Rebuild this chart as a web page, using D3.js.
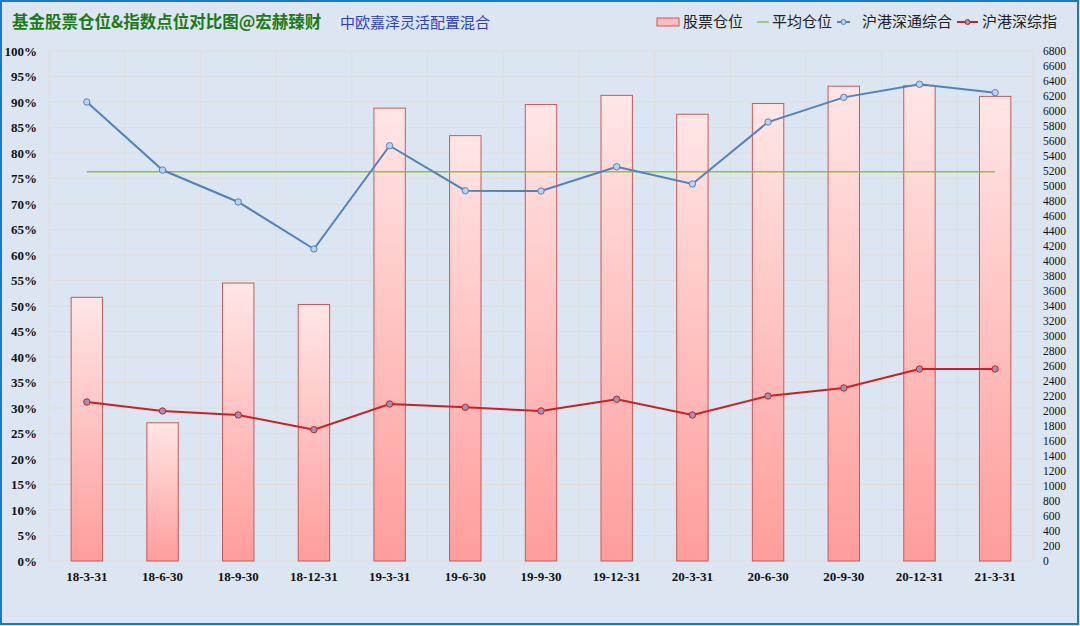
<!DOCTYPE html>
<html>
<head>
<meta charset="utf-8">
<script src="https://cdn.jsdelivr.net/npm/d3@7"></script>
<style>
    html, body { margin: 0; padding: 0; background: #dce6f2; }
    svg { display: block; }
</style>
</head>
<body>
<div id="chart"></div>
<script>
// data
const categories = ["18-3-31", "18-6-30", "18-9-30", "18-12-31", "19-3-31", "19-6-30", "19-9-30",
    "19-12-31", "20-3-31", "20-6-30", "20-9-30", "20-12-31", "21-3-31"];
const stockPosition = [51.7, 27.1, 54.5, 50.3, 88.8, 83.4, 89.5, 91.3, 87.6, 89.7, 93.1, 93.2, 91.1];
const avgPosition = [76.3];
const hkConnectIndex = [6120, 5213, 4787, 4160, 5537, 4937, 4933, 5257, 5027, 5853, 6182, 6356, 6244];
const hkCompositeIndex = [2120, 2000, 1947, 1751, 2093, 2049, 2000, 2156, 1947, 2200, 2307, 2560, 2560];
const leftTicks = d3.range(0, 101, 5);
const rightTicks = d3.range(0, 6801, 200);
const legendItems = ["股票仓位", "平均仓位", "沪港深通综合", "沪港深综指"];

const W = 1080, H = 626;
const m = { top: 51, right: 47, bottom: 65, left: 49 };
const innerW = W - m.left - m.right, innerH = H - m.top - m.bottom;

const svg = d3.select("#chart").append("svg")
    .attr("width", W)
    .attr("height", H);

const defs = svg.append("defs");
const grad = defs.append("linearGradient")
    .attr("id", "barGrad")
    .attr("x1", 0).attr("y1", 0).attr("x2", 0).attr("y2", 1);
grad.append("stop").attr("offset", "0%").attr("stop-color", "#ffe6e6");
grad.append("stop").attr("offset", "100%").attr("stop-color", "#ff9d9b");

// background + frame
svg.append("rect")
    .attr("x", 1).attr("y", 1)
    .attr("width", W - 3).attr("height", H - 3)
    .style("fill", "#dce6f2")
    .style("stroke", "#1f77c8")
    .style("stroke-width", 2);

const x = d3.scaleBand().domain(categories).range([0, innerW]).paddingInner(0).paddingOuter(0);
const yL = d3.scaleLinear().domain([0, 100]).range([innerH, 0]);
const yR = d3.scaleLinear().domain([0, 6800]).range([innerH, 0]);

const g = svg.append("g")
    .attr("transform", "translate(" + m.left + "," + m.top + ")");

// grid
g.append("g").selectAll("line.h")
    .data(leftTicks)
    .enter().append("line")
    .attr("x1", 0).attr("x2", innerW)
    .attr("y1", d => yL(d)).attr("y2", d => yL(d))
    .style("stroke", "#e2ddd8")
    .style("stroke-width", 1);

g.append("g").selectAll("line.v")
    .data(categories.concat(["__end"]))
    .enter().append("line")
    .attr("x1", (d, i) => i * x.bandwidth()).attr("x2", (d, i) => i * x.bandwidth())
    .attr("y1", 0).attr("y2", innerH)
    .style("stroke", "#e2ddd8")
    .style("stroke-width", 1);

// bars
const barW = x.bandwidth() * 0.415;
g.append("g").selectAll("rect")
    .data(stockPosition)
    .enter().append("rect")
    .attr("x", (d, i) => x(categories[i]) + x.bandwidth() / 2 - barW / 2)
    .attr("y", d => yL(d))
    .attr("width", barW)
    .attr("height", d => innerH - yL(d))
    .style("fill", "url(#barGrad)")
    .style("stroke", "#c8595a")
    .style("stroke-width", 1);

const cx = (d, i) => x(categories[i]) + x.bandwidth() / 2;

// average line
g.append("line")
    .attr("x1", cx(null, 0)).attr("x2", cx(null, categories.length - 1))
    .attr("y1", yL(avgPosition[0])).attr("y2", yL(avgPosition[0]))
    .style("stroke", "#8cc04a")
    .style("stroke-width", 1.5);

// index lines
const drawSeries = (data, color, markerFill) => {
    const line = d3.line().x(cx).y(d => yR(d));
    g.append("path")
        .datum(data)
        .attr("d", line)
        .style("fill", "none")
        .style("stroke", color)
        .style("stroke-width", 2);
    g.append("g").selectAll("circle")
        .data(data)
        .enter().append("circle")
        .attr("cx", cx)
        .attr("cy", d => yR(d))
        .attr("r", 3.2)
        .style("fill", markerFill)
        .style("stroke", color)
        .style("stroke-width", 1);
};
drawSeries(hkConnectIndex, "#5182bd", "#bcd2f4");
drawSeries(hkCompositeIndex, "#cc1f25", "#a091b8");

// left axis
g.append("g").selectAll("text")
    .data(leftTicks)
    .enter().append("text")
    .attr("x", -12)
    .attr("y", d => yL(d))
    .attr("dy", "0.35em")
    .attr("text-anchor", "end")
    .style("font-family", "'Liberation Serif', 'DejaVu Serif', serif")
    .style("font-weight", "bold")
    .style("font-size", "13px")
    .style("fill", "#111")
    .text(d => d + "%");

// right axis
g.append("g").selectAll("text")
    .data(rightTicks)
    .enter().append("text")
    .attr("x", innerW + 10)
    .attr("y", d => yR(d))
    .attr("dy", "0.35em")
    .style("font-family", "'Liberation Serif', 'DejaVu Serif', serif")
    .style("font-size", "11.5px")
    .style("fill", "#111")
    .text(d => d);

// x axis
g.append("g").selectAll("text")
    .data(categories)
    .enter().append("text")
    .attr("x", (d, i) => cx(d, i))
    .attr("y", innerH + 20)
    .attr("text-anchor", "middle")
    .style("font-family", "'Liberation Serif', 'DejaVu Serif', serif")
    .style("font-weight", "bold")
    .style("font-size", "13px")
    .style("fill", "#111")
    .text(d => d);

// titles
svg.append("text")
    .attr("x", 12).attr("y", 28)
    .style("font-family", "'Noto Sans CJK SC', sans-serif")
    .style("font-weight", "bold")
    .style("font-size", "16.5px")
    .style("fill", "#1b7a1b")
    .text("基金股票仓位&指数点位对比图@宏赫臻财");

svg.append("text")
    .attr("x", 340).attr("y", 28)
    .style("font-family", "'Noto Sans CJK SC', sans-serif")
    .style("font-size", "15px")
    .style("fill", "#2a3fd0")
    .text("中欧嘉泽灵活配置混合");

// legend
const legend = svg.append("g");
const legendX = [657, 757, 837, 957];
const legendTextX = [683, 772, 862, 982];
const ly = 22;
legend.append("rect")
    .attr("x", legendX[0]).attr("y", ly - 4)
    .attr("width", 22).attr("height", 8)
    .style("fill", "#fbbcbc")
    .style("stroke", "#c8595a");
legend.append("line")
    .attr("x1", legendX[1]).attr("x2", legendX[1] + 12)
    .attr("y1", ly).attr("y2", ly)
    .style("stroke", "#8cc04a").style("stroke-width", 1.5);
[[2, "#5182bd", "#bcd2f4"], [3, "#cc1f25", "#a091b8"]].forEach(([k, c, f]) => {
    const w = k == 2 ? 13 : 21;
    legend.append("line")
        .attr("x1", legendX[k]).attr("x2", legendX[k] + w)
        .attr("y1", ly).attr("y2", ly)
        .style("stroke", c).style("stroke-width", 2);
    legend.append("circle")
        .attr("cx", legendX[k] + w / 2).attr("cy", ly).attr("r", 2.5)
        .style("fill", f).style("stroke", c);
});
legend.selectAll("text")
    .data(legendItems)
    .enter().append("text")
    .attr("x", (d, i) => legendTextX[i])
    .attr("y", ly)
    .attr("dy", "0.36em")
    .style("font-family", "'Noto Sans CJK SC', sans-serif")
    .style("font-size", "15px")
    .style("fill", "#222")
    .text(d => d);
</script>
</body>
</html>
